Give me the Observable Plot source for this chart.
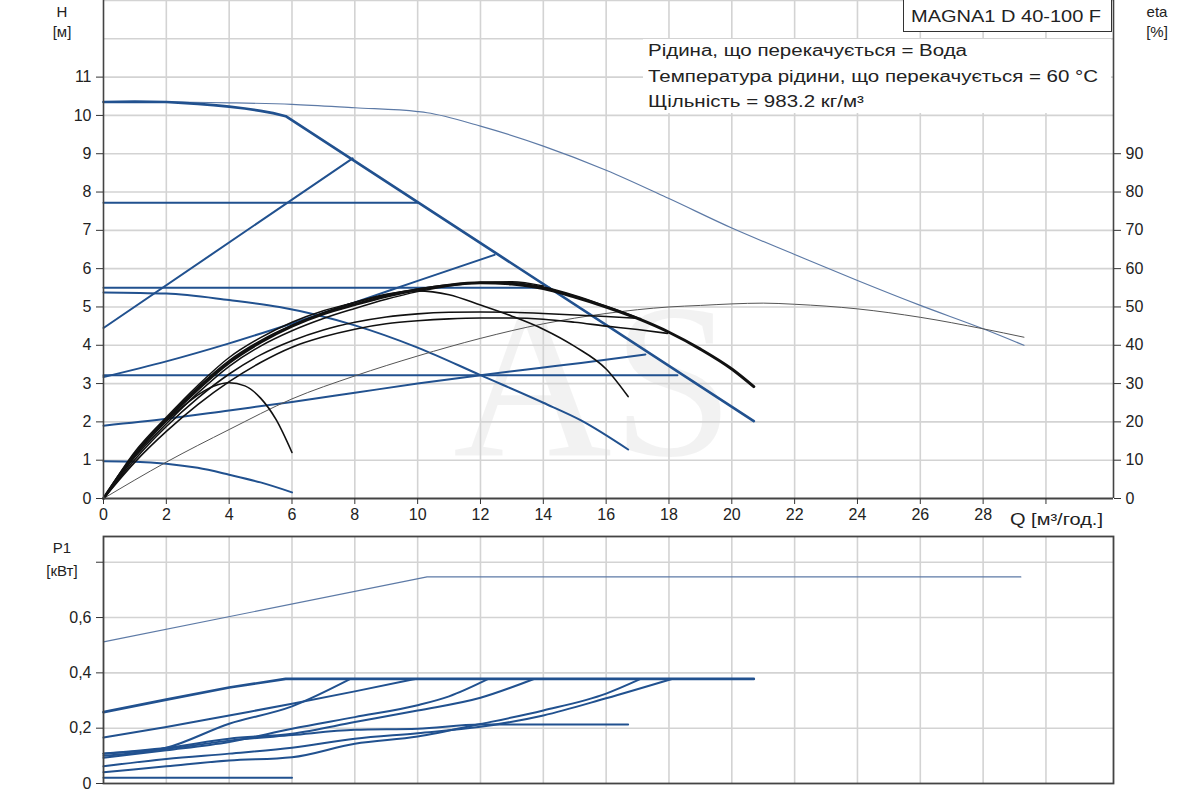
<!DOCTYPE html>
<html><head><meta charset="utf-8">
<script src="https://cdn.jsdelivr.net/npm/d3@7"></script>
<script src="https://cdn.jsdelivr.net/npm/@observablehq/plot@0.6"></script>
<style>
body{margin:0;background:#fff;font-family:"Liberation Sans",Arial,sans-serif;color:#222}
#wrap{position:relative;width:1200px;height:800px;overflow:hidden;background:#fff}
.lbl{position:absolute;font-size:15px;line-height:1;white-space:nowrap;color:#222}
.c{transform:translateX(-50%)}
.wide{font-size:16px;transform:scaleX(1.25);transform-origin:left center}
#model{position:absolute;left:903px;top:-1px;width:209px;height:33px;border:1px solid #333;background:#fff;box-sizing:border-box}
#model span{position:absolute;left:7px;top:9px;font-size:16px;line-height:1;white-space:nowrap;transform:scaleX(1.25);transform-origin:left center}
#note{position:absolute;left:643px;top:39px;width:468px;height:74px;background:#fff}
#note div{position:absolute;left:5px;font-size:16px;line-height:1;white-space:nowrap;transform:scaleX(1.28);transform-origin:left center}
</style></head><body><div id="wrap"></div>
<script>
// ---------- data ----------
const xTicks = [0,2,4,6,8,10,12,14,16,18,20,22,24,26,28,30];
const hTicks = [0,1,2,3,4,5,6,7,8,9,10,11];
const etaTicks = [0,10,20,30,40,50,60,70,80,90];
const pTicks = [0,0.2,0.4,0.6,0.8];
const Q_MAX = 32.15, H_MAX = 13, P_MAX = 0.893;

// H(Q) curves, [Q, H]
const hMax = [[0,10.35],[1,10.36],[2,10.35],[2.5,10.33],[3,10.3],[3.5,10.27],[4,10.23],[4.5,10.18],[5,10.12],[5.4,10.06],[5.8,9.98],[20.7,2.02]];
const hMaxThin = [[0,10.35],[2,10.35],[4,10.33],[6,10.29],[8,10.2],[10,10.1],[10.3,10.07],[12,9.72],[14,9.2],[16,8.57],[18,7.83],[20,7.06],[22,6.37],[24,5.69],[26,5.04],[28,4.43],[29.3,4.0]];
const hConst1 = [[0,7.72],[10.0,7.72]];
const hConst2 = [[0,5.5],[14.2,5.5]];
const hConst3 = [[0,3.22],[18.27,3.22]];
const hProp1 = [[0,4.45],[7.93,8.88]];
const hProp2 = [[0,3.17],[2,3.58],[4,4.05],[6,4.57],[8,5.12],[10,5.68],[12.45,6.36]];
const hProp3 = [[0,1.9],[2,2.08],[4,2.3],[6,2.52],[8,2.76],[10,3.0],[12,3.22],[14,3.42],[15.2,3.54],[17.25,3.76]];
const hCurve1 = [[0,5.38],[2,5.35],[4,5.18],[5.6,5.0],[8,4.52],[10,3.94],[12,3.22],[14,2.5],[15.2,2.04],[16.7,1.28]];
const hCurve2 = [[0,0.97],[1,0.96],[2,0.91],[3,0.8],[4,0.62],[5,0.42],[6,0.16]];

// eta(Q) curves, [Q, eta/10] (same scale as H: 10 % = 1 m)
const etaMax = [[0,0],[2,0.95],[4,1.8],[6,2.6],[8,3.2],[10,3.72],[12,4.18],[14,4.56],[16,4.83],[18,5.0],[19,5.04],[20,5.08],[21,5.1],[22,5.07],[24,4.95],[26,4.73],[28,4.43],[29.3,4.21]];
const eta1 = [[0,0],[1,1.15],[2,2.05],[3,2.85],[4,3.55],[5,4.08],[6,4.5],[7,4.82],[8,5.06],[9,5.28],[10,5.45],[11,5.57],[12,5.63],[13,5.6],[14,5.48],[15,5.26],[16,5.0],[17,4.7],[18,4.34],[19,3.9],[20,3.38],[20.7,2.92]];
const eta2 = [[0,0],[1,1.22],[2,2.12],[3,2.95],[4,3.68],[5,4.2],[6,4.6],[7,4.9],[8,5.12],[9,5.32],[10,5.47],[11,5.58],[12,5.64],[13,5.63],[14,5.52],[15,5.3],[16,5.02],[17,4.72]];
const eta3 = [[0,0],[1,1.08],[2,1.95],[3,2.75],[4,3.45],[5,3.98],[6,4.38],[7,4.7],[8,4.96],[9,5.2],[10,5.4],[11,5.55],[12,5.64],[13,5.66],[14,5.55]];
const eta4 = [[0,0],[1,1.15],[2,2.08],[3,2.9],[4,3.6],[5,4.12],[6,4.52],[7,4.85],[8,5.12],[9,5.33],[10,5.42],[11,5.32],[12,5.05],[13,4.76],[14,4.42],[15,3.97],[16,3.38],[16.7,2.66]];
const eta5 = [[0,0],[1,1.02],[2,1.88],[3,2.62],[4,3.25],[5,3.75],[6,4.12],[7,4.4],[8,4.6],[9,4.74],[10,4.82],[11,4.86],[12,4.87],[13,4.86],[14,4.83],[15,4.79],[16,4.75],[17.1,4.7]];
const eta6 = [[0,0],[1,0.95],[2,1.75],[3,2.45],[4,3.05],[5,3.55],[6,3.95],[7,4.22],[8,4.42],[9,4.56],[10,4.64],[11,4.69],[12,4.71],[13,4.71],[14,4.68],[15,4.6],[16,4.5],[17,4.41],[17.95,4.31]];
const eta7 = [[0,0],[0.5,0.62],[1,1.15],[1.5,1.62],[2,2.02],[2.5,2.38],[3,2.7],[3.5,2.93],[4,3.02],[4.5,2.94],[5,2.62],[5.5,2.05],[6,1.2]];

// P1(Q) curves, [Q, kW]
const pThin = [[0,0.512],[10.3,0.747],[29.2,0.747]];
const pMax = [[0,0.258],[2,0.303],[4,0.347],[5.8,0.378],[20.7,0.378]];
const pConst1 = [[0,0.166],[2,0.204],[4,0.246],[6,0.288],[8,0.333],[9.93,0.378]];
const pProp1 = [[0,0.1],[2,0.129],[4,0.216],[6,0.279],[7.86,0.378]];
const pProp2 = [[0,0.093],[2,0.12],[4,0.15],[6,0.198],[8,0.24],[10,0.283],[11,0.315],[12.25,0.378]];
const pConst2 = [[0,0.108],[2,0.129],[4,0.162],[6,0.18],[8,0.222],[10,0.264],[12,0.31],[13.7,0.378]];
const pCurve1 = [[0,0.108],[2,0.125],[4,0.155],[6,0.175],[8,0.194],[10,0.198],[12,0.213],[16.7,0.213]];
const pConst3 = [[0,0.062],[2,0.089],[4,0.108],[6,0.129],[8,0.162],[10,0.182],[12,0.205],[14,0.246],[16,0.308],[18.1,0.378]];
const pProp3 = [[0,0.041],[2,0.062],[4,0.083],[6,0.095],[8,0.144],[10,0.17],[12,0.215],[14,0.264],[16,0.325],[17.1,0.378]];
const pCurve2 = [[0,0.021],[6,0.021]];

// ---------- drawing ----------
const BLUE = "#21518f", LBLUE = "#5d7aa6", BLACK = "#111", GRID = "#d3d3d3", AX = "#444";
const FONT = "Liberation Sans, Arial, sans-serif";
const L = (data, stroke, w, curve = "linear") =>
  Plot.line(data, {x: d => d[0], y: d => d[1], stroke, strokeWidth: w, curve, strokeLinejoin: "round", strokeLinecap: "round"});

const wrap = document.getElementById("wrap");

const topPlot = Plot.plot({
  width: 1200, height: 530,
  marginLeft: 103, marginRight: 87, marginTop: 0, marginBottom: 32,
  x: {domain: [0, Q_MAX]},
  y: {domain: [0, H_MAX]},
  style: {fontFamily: FONT, fontSize: "16px", color: "#222", background: "transparent", overflow: "visible"},
  marks: [
    Plot.text(["AS"], {text: d => d, frameAnchor: "middle", dx: -15, dy: 135, fontSize: 220, fontFamily: "Liberation Serif, DejaVu Serif, serif", fill: "#000", fillOpacity: 0.05}),
    Plot.gridX(xTicks.slice(1), {stroke: GRID, strokeOpacity: 1, strokeWidth: 1.6}),
    Plot.gridY(d3.range(1, H_MAX + 1), {stroke: GRID, strokeOpacity: 1, strokeWidth: 1.6}),
    L(hMaxThin, LBLUE, 1.2, "monotone-x"),
    L(hConst1, BLUE, 2), L(hConst2, BLUE, 2), L(hConst3, BLUE, 2),
    L(hProp1, BLUE, 2), L(hProp2, BLUE, 2, "monotone-x"), L(hProp3, BLUE, 2, "monotone-x"),
    L(hCurve1, BLUE, 2, "monotone-x"), L(hCurve2, BLUE, 2, "monotone-x"),
    L(hMax, BLUE, 2.7),
    L(etaMax, "#555", 1.0, "monotone-x"),
    L(eta6, BLACK, 1.6, "monotone-x"), L(eta5, BLACK, 1.6, "monotone-x"),
    L(eta4, BLACK, 1.6, "monotone-x"), L(eta3, BLACK, 1.5, "monotone-x"),
    L(eta2, BLACK, 1.5, "monotone-x"), L(eta7, BLACK, 1.6, "monotone-x"),
    L(eta1, BLACK, 3, "monotone-x"),
    Plot.ruleX([0, Q_MAX], {stroke: AX, strokeWidth: 1.6}),
    Plot.ruleY([0], {stroke: AX, strokeWidth: 1.8}),
    Plot.axisY(hTicks, {anchor: "left", tickSize: 7, tickPadding: 5, label: null, stroke: "#333"}),
    Plot.axisY(etaTicks.map(v => v / 10), {anchor: "right", tickSize: 7, tickPadding: 5, label: null, stroke: "#333", tickFormat: v => String(Math.round(v * 10))}),
    Plot.axisX(xTicks, {anchor: "bottom", tickSize: 6, tickPadding: 4, label: null, stroke: "#333", tickFormat: v => v === 30 ? "" : String(v)})
  ]
});
topPlot.style.position = "absolute"; topPlot.style.left = "0px"; topPlot.style.top = "0px";
wrap.appendChild(topPlot);

const fmtP = v => v === 0 ? "0" : (Math.abs(v - 0.8) < 1e-9 ? "" : v.toFixed(1).replace(".", ","));
const botPlot = Plot.plot({
  width: 1200, height: 270,
  marginLeft: 103, marginRight: 87, marginTop: 6, marginBottom: 17,
  x: {domain: [0, Q_MAX], axis: null},
  y: {domain: [0, P_MAX], axis: null},
  style: {fontFamily: FONT, fontSize: "16px", color: "#222", background: "transparent", overflow: "visible"},
  marks: [
    Plot.gridX(xTicks.slice(1), {stroke: GRID, strokeOpacity: 1, strokeWidth: 1.6}),
    Plot.gridY(pTicks.slice(1), {stroke: GRID, strokeOpacity: 1, strokeWidth: 1.6}),
    L(pThin, LBLUE, 1.2),
    L(pCurve2, BLUE, 2),
    L(pProp3, BLUE, 2, "monotone-x"), L(pConst3, BLUE, 2, "monotone-x"),
    L(pCurve1, BLUE, 2, "monotone-x"), L(pConst2, BLUE, 2, "monotone-x"),
    L(pProp2, BLUE, 2, "monotone-x"), L(pProp1, BLUE, 2, "monotone-x"),
    L(pConst1, BLUE, 2, "monotone-x"),
    L(pMax, BLUE, 2.7),
    Plot.frame({stroke: AX, strokeWidth: 1.8}),
    Plot.axisY(pTicks, {anchor: "left", tickSize: 7, tickPadding: 5, label: null, stroke: "#333", tickFormat: fmtP})
  ]
});
botPlot.style.position = "absolute"; botPlot.style.left = "0px"; botPlot.style.top = "530px";
wrap.appendChild(botPlot);

// ---------- texts ----------
function label(txt, x, y, cls = "lbl c") {
  const d = document.createElement("div");
  d.className = cls;
  d.style.left = x + "px"; d.style.top = y + "px";
  d.textContent = txt;
  wrap.appendChild(d);
  return d;
}
label("H", 62, 4); label("[м]", 62, 24);
label("eta", 1157, 4); label("[%]", 1157, 24);
label("Q [м³/год.]", 1010, 512, "lbl wide");
label("P1", 62, 540); label("[кВт]", 62, 563);

const model = document.createElement("div");
model.id = "model";
const ms = document.createElement("span"); ms.textContent = "MAGNA1 D 40-100 F";
model.appendChild(ms);
wrap.appendChild(model);

const noteLines = ["Рідина, що перекачується = Вода", "Температура рідини, що перекачується = 60 °C", "Щільність = 983.2 кг/м³"];
const note = document.createElement("div");
note.id = "note";
noteLines.forEach((t, i) => {
  const d = document.createElement("div");
  d.textContent = t;
  d.style.top = (4 + i * 25.5) + "px";
  note.appendChild(d);
});
wrap.appendChild(note);
</script></body></html>
